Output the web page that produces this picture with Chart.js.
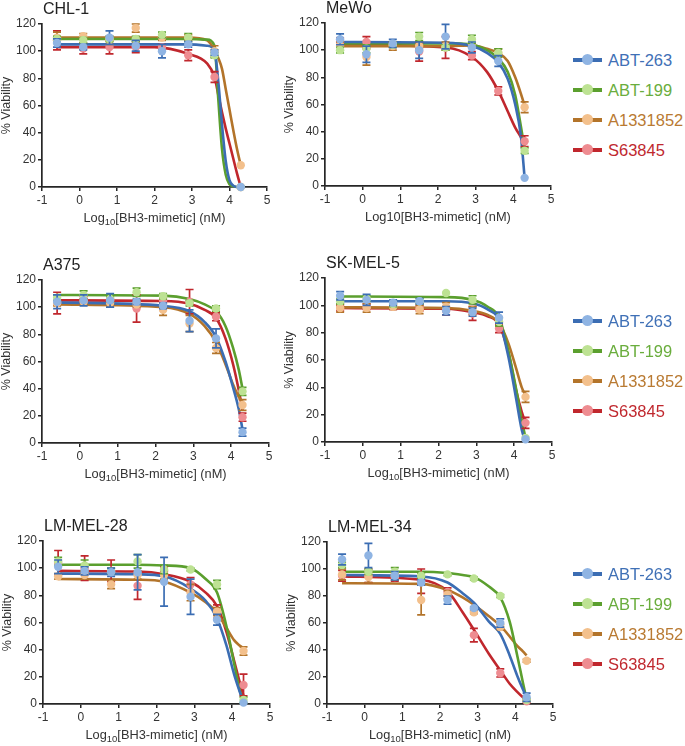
<!DOCTYPE html>
<html>
<head>
<meta charset="utf-8">
<script src="https://cdn.jsdelivr.net/npm/chart.js@4.4.0/dist/chart.umd.min.js"></script>
<style>
body { margin: 0; background: #fff; width: 685px; height: 746px; position: relative; overflow: hidden;
       font-family: "Liberation Sans", Arial, sans-serif; color: #222; }
canvas.panel { position: absolute; }
.ptitle { position: absolute; font-size: 16px; line-height: 15px; white-space: nowrap; }
.xtitle { position: absolute; font-size: 12.8px; line-height: 14px; text-align: center; white-space: nowrap; color: #333; }
.xtitle sub { font-size: 9.5px; line-height: 0; vertical-align: -3px; }
.litem { position: absolute; height: 20px; }
.lline { position: absolute; left: 0; top: 8px; width: 29px; height: 4px; }
.ldot { position: absolute; left: 9px; top: 4px; width: 11px; height: 11px; border-radius: 50%; }
.ltext { position: absolute; left: 35px; top: 0; font-size: 16.5px; line-height: 20px; white-space: nowrap; }
</style>
</head>
<body>
<script>
// Series / categories
const drugs = ['ABT-263', 'ABT-199', 'A1331852', 'S63845'];
const doseX = [-0.6, 0.1, 0.8, 1.5, 2.2, 2.9, 3.6, 4.3];
const xTicks = [-1, 0, 1, 2, 3, 4, 5];
const yTicks = [0, 20, 40, 60, 80, 100, 120];

// CHL-1  (rows: ABT-263, ABT-199, A1331852, S63845)
const chl1Means = [
  [106, 103, 110, 104, 100, 105, 99, 0],
  [109, 108, 109, 109, 112, 110, 97, 0],
  [110, 111, 108, 117, 110, 110, 100, 16],
  [108, 102, 103, 103, 103, 97, 81, 0]
];
const chl1Errors = [
  [3, 2, 5, 4, 5, 2, 2, 0],
  [2, 2, 2, 2, 2, 3, 2, 0],
  [4, 2, 3, 3, 2, 2, 4, 0],
  [7, 4, 5, 4, 2, 4, 4, 0]
];
const chl1CurveX = [-0.6, 2.0, 2.9, 3.4, 3.6, 3.7, 3.8, 3.9, 4.0, 4.1, 4.2, 4.3];
const chl1Curves = [
  [105, 105, 105, 104, 100, 78, 46, 19, 5, 1, 0, 0],
  [109, 109, 109, 108.5, 104, 65, 28, 9, 2, 0.5, 0, 0],
  [110, 110, 110, 108, 101, 95, 87, 72, 57, 42, 28, 16],
  [103, 103, 98, 91, 81, 68, 55, 43, 32, 21, 10, 0]
];

// MeWo
const mewoMeans = [
  [108, 97, 105, 100, 110, 102, 92, 6],
  [100, 101, 104, 110, 102, 108, 98, 26],
  [103, 95, 103, 103, 103, 105, 98, 58],
  [106, 106, 104, 99, 102, 96, 70, 33]
];
const mewoErrors = [
  [4, 6, 3, 6, 9, 4, 4, 0],
  [2, 3, 2, 3, 2, 3, 3, 2],
  [3, 6, 3, 2, 3, 3, 3, 4],
  [3, 4, 2, 7, 8, 3, 3, 4]
];
const mewoCurveX = [-0.6, 2.2, 2.9, 3.3, 3.6, 3.85, 4.05, 4.2, 4.3];
const mewoCurves = [
  [106, 105.5, 103, 98, 91, 79, 60, 37, 6],
  [105, 105, 104, 100, 94, 84, 67, 44, 27],
  [103, 103, 103.5, 101, 98, 92, 80, 68, 59],
  [104, 102, 95, 84, 70, 55, 43, 36, 31]
];

// A375
const a375Means = [
  [104, 105, 105, 104, 101, 90, 77, 8],
  [107, 109, 106, 111, 108, 103, 99, 38],
  [103, 104, 103, 102, 98, 88, 70, 28],
  [103, 106, 105, 99, 105, 104, 93, 19]
];
const a375Errors = [
  [5, 4, 5, 2, 2, 8, 7, 3],
  [2, 3, 2, 3, 2, 2, 2, 3],
  [2, 2, 3, 2, 4, 6, 4, 4],
  [8, 2, 2, 10, 2, 9, 3, 3]
];
const a375CurveX = [-0.6, 2.2, 2.9, 3.3, 3.6, 3.85, 4.05, 4.2, 4.3];
const a375Curves = [
  [103.5, 101, 97, 89, 78, 60, 41, 25, 10],
  [109, 108.5, 106, 102, 97, 86, 70, 54, 40],
  [102, 100, 95, 86, 74, 58, 43, 34, 30],
  [105, 104.5, 102.5, 98, 92, 77, 58, 39, 24]
];

// SK-MEL-5
const skmel5Means = [
  [107, 104, 102, 103, 96, 95, 91, 2],
  [103, 105, 101, 103, 109, 104, 88, 3],
  [98, 98, 99, 97, 99, 96, 88, 33],
  [98, 99, 99, 98, 96, 94, 83, 14]
];
const skmel5Errors = [
  [3, 4, 2, 2, 3, 3, 4, 0],
  [2, 2, 2, 2, 0, 3, 3, 0],
  [3, 3, 2, 3, 3, 3, 3, 4],
  [2, 2, 2, 2, 3, 5, 3, 4]
];
const skmel5CurveX = [-0.6, 2.2, 2.9, 3.3, 3.6, 3.85, 4.05, 4.2, 4.3];
const skmel5Curves = [
  [103, 103, 101.5, 97, 89, 62, 32, 9, 0],
  [106.5, 106, 104, 99, 91, 66, 39, 16, 3],
  [98.5, 98, 96, 93, 87, 72, 54, 40, 34],
  [98, 97.5, 95, 92, 86, 65, 38, 22, 14]
];

// LM-MEL-28
const lmmel28Means = [
  [101, 98, 97, 97, 90, 79, 62, 1],
  [105, 102, 98, 105, 99, 99, 88, 3],
  [94, 95, 88, 95, 95, 82, 68, 39],
  [104, 100, 98, 87, 98, 88, 68, 14]
];
const lmmel28Errors = [
  [5, 3, 3, 13, 18, 13, 4, 0],
  [3, 4, 2, 5, 3, 1, 3, 2],
  [2, 3, 3, 3, 3, 6, 3, 3],
  [9, 9, 8, 10, 3, 5, 5, 8]
];
const lmmel28CurveX = [-0.6, 1.5, 2.2, 2.9, 3.3, 3.6, 3.85, 4.05, 4.2, 4.3];
const lmmel28Curves = [
  [96, 95.5, 94, 85, 76, 63, 43, 22, 9, 1],
  [102.5, 102.5, 102, 100, 92, 82, 57, 30, 10, 2],
  [92, 91.5, 90, 82, 75, 67, 56, 47, 43, 41],
  [98, 97.5, 95.5, 90, 82, 72, 53, 32, 16, 6]
];

// LM-MEL-34
const lmmel34Means = [
  [107, 110, 95, 90, 77, 71, 60, 5],
  [103, 98, 98, 95, 96, 93, 80, 3],
  [96, 94, 95, 77, 81, 68, 57, 32],
  [95, 95, 94, 91, 83, 51, 23, 2]
];
const lmmel34Errors = [
  [4, 9, 3, 2, 3, 1, 3, 3],
  [2, 2, 3, 2, 1, 1, 1, 1],
  [4, 4, 3, 11, 3, 1, 2, 1],
  [4, 5, 3, 9, 3, 5, 3, 1]
];
const lmmel34CurveX = [-0.6, 1.5, 2.2, 2.6, 2.9, 3.3, 3.6, 3.85, 4.05, 4.2, 4.3];
const lmmel34Curves = [
  [95.5, 94.5, 90, 82, 75, 61, 52, 36, 21, 11, 5],
  [98, 98, 97, 95.5, 94, 87, 79, 61, 36, 16, 3],
  [89.5, 89, 84.5, 79, 73.5, 65, 58, 50, 43, 39, 36],
  [94.5, 92, 83.5, 68, 55, 37, 25, 15, 9, 5, 3]
];

// Colours
const lineColors = ['#3b6db3', '#5b9f2e', '#b3742a', '#c0272d'];
const markerColors = ['#8fb4e3', '#bde293', '#f3c08c', '#ee8c91'];
const textColors = ['#3f70b6', '#6aad3d', '#b97a32', '#c0282e'];

// Panel layout (plot area in page pixels)
const panels = [
  { title: 'CHL-1', L: 42, R: 267, T: 24, B: 187, sub: true, means: chl1Means, errors: chl1Errors, cx: chl1CurveX, curves: chl1Curves },
  { title: 'MeWo', L: 325, R: 551, T: 23, B: 186, sub: false, means: mewoMeans, errors: mewoErrors, cx: mewoCurveX, curves: mewoCurves },
  { title: 'A375', L: 42, R: 269, T: 280, B: 443, sub: true, means: a375Means, errors: a375Errors, cx: a375CurveX, curves: a375Curves },
  { title: 'SK-MEL-5', L: 325, R: 552, T: 278, B: 442, sub: true, means: skmel5Means, errors: skmel5Errors, cx: skmel5CurveX, curves: skmel5Curves },
  { title: 'LM-MEL-28', L: 43, R: 270, T: 541, B: 704, sub: true, means: lmmel28Means, errors: lmmel28Errors, cx: lmmel28CurveX, curves: lmmel28Curves },
  { title: 'LM-MEL-34', L: 327, R: 553, T: 542, B: 704, sub: true, means: lmmel34Means, errors: lmmel34Errors, cx: lmmel34CurveX, curves: lmmel34Curves }
];
const legendTops = [60, 321, 574];

// Error bars drawn under each marker dataset
const errorBars = {
  id: 'errorBars',
  beforeDatasetDraw(chart, args) {
    const ds = chart.data.datasets[args.index];
    if (!ds.errors) return;
    const xs = chart.scales.x, ys = chart.scales.y, ctx = chart.ctx;
    ctx.save();
    ctx.strokeStyle = ds.errColor;
    ctx.lineWidth = 1.7;
    ds.data.forEach((p, i) => {
      const e = ds.errors[i];
      if (!e) return;
      const px = xs.getPixelForValue(p.x);
      const top = ys.getPixelForValue(p.y + e);
      const bot = ys.getPixelForValue(Math.max(0, p.y - e));
      ctx.beginPath();
      ctx.moveTo(px, top); ctx.lineTo(px, bot);
      ctx.moveTo(px - 4, top); ctx.lineTo(px + 4, top);
      ctx.moveTo(px - 4, bot); ctx.lineTo(px + 4, bot);
      ctx.stroke();
    });
    ctx.restore();
  }
};

const PAD_L = 44, PAD_T = 10, PAD_R = 14, PAD_B = 24;
const axisColor = '#262626';
const font = 'Liberation Sans, Arial, sans-serif';

function addDiv(cls, left, top, html, extra) {
  const d = document.createElement('div');
  d.className = cls;
  d.style.left = left + 'px';
  d.style.top = top + 'px';
  d.innerHTML = html;
  if (extra) Object.assign(d.style, extra);
  document.body.appendChild(d);
  return d;
}

panels.forEach(p => {
  const w = p.R - p.L + PAD_L + PAD_R;
  const h = p.B - p.T + PAD_T + PAD_B;
  const cv = document.createElement('canvas');
  cv.className = 'panel';
  cv.width = w; cv.height = h;
  cv.style.left = (p.L - PAD_L) + 'px';
  cv.style.top = (p.T - PAD_T) + 'px';
  cv.style.width = w + 'px';
  cv.style.height = h + 'px';
  document.body.appendChild(cv);

  const datasets = [];
  drugs.forEach((d, i) => {
    datasets.push({
      label: d + ' fit',
      data: p.cx.map((x, k) => ({ x: x, y: p.curves[i][k] })),
      borderColor: lineColors[i],
      borderWidth: 2.6,
      pointRadius: 0,
      fill: false,
      cubicInterpolationMode: 'monotone',
      clip: false,
      order: 10 + i
    });
    datasets.push({
      label: d,
      data: doseX.map((x, k) => ({ x: x, y: p.means[i][k] })),
      errors: p.errors[i],
      errColor: lineColors[i],
      showLine: false,
      pointRadius: 4.2,
      pointBackgroundColor: markerColors[i],
      pointBorderWidth: 0,
      clip: false,
      order: i
    });
  });

  new Chart(cv, {
    type: 'line',
    data: { datasets: datasets },
    plugins: [errorBars],
    options: {
      responsive: false,
      animation: false,
      devicePixelRatio: 1,
      layout: { padding: { top: PAD_T, right: PAD_R, left: 0, bottom: 0 } },
      plugins: { legend: { display: false }, tooltip: { enabled: false } },
      scales: {
        x: {
          type: 'linear', min: -1, max: 5,
          afterFit: s => { s.height = PAD_B; },
          afterBuildTicks: s => { s.ticks = xTicks.map(v => ({ value: v })); },
          grid: { drawOnChartArea: false, drawTicks: true, tickLength: 4, color: axisColor, lineWidth: 1.5 },
          border: { display: true, color: axisColor, width: 1.7 },
          ticks: { color: '#333', padding: 2, font: { family: font, size: 12 } }
        },
        y: {
          type: 'linear', min: 0, max: 120,
          afterFit: s => { s.width = PAD_L; },
          afterBuildTicks: s => { s.ticks = yTicks.map(v => ({ value: v })); },
          grid: { drawOnChartArea: false, drawTicks: true, tickLength: 4, color: axisColor, lineWidth: 1.5 },
          border: { display: true, color: axisColor, width: 1.7 },
          ticks: { color: '#333', padding: 2, font: { family: font, size: 12 } },
          title: { display: true, text: '% Viability', color: '#333', padding: { top: 1, bottom: 0 }, font: { family: font, size: 12.5 } }
        }
      }
    }
  });

  addDiv('ptitle', p.L + 1, p.T - 23, p.title);
  const xt = p.sub ? 'Log<sub>10</sub>[BH3-mimetic] (nM)' : 'Log10[BH3-mimetic] (nM)';
  addDiv('xtitle', p.L, p.B + 24, xt, { width: (p.R - p.L) + 'px' });
});

// Legends to the right of each row
legendTops.forEach(top => {
  drugs.forEach((d, i) => {
    const item = addDiv('litem', 573, top - 10 + i * 30, '');
    const line = document.createElement('div');
    line.className = 'lline'; line.style.background = lineColors[i];
    const dot = document.createElement('div');
    dot.className = 'ldot'; dot.style.background = markerColors[i];
    const txt = document.createElement('div');
    txt.className = 'ltext'; txt.style.color = textColors[i]; txt.textContent = d;
    item.appendChild(line); item.appendChild(dot); item.appendChild(txt);
  });
});
</script>
</body>
</html>
